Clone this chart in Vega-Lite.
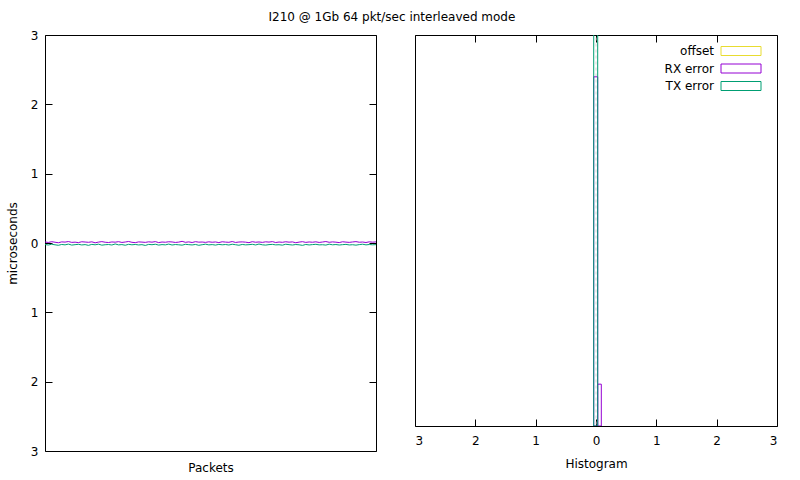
{
  "$schema": "https://vega.github.io/schema/vega-lite/v6.json",
  "padding": {"left": 5, "top": 10, "right": 5, "bottom": 5},
  "background": "white",
  "title": {"text": "I210 @ 1Gb 64 pkt/sec interleaved mode", "fontSize": 12, "fontWeight": "normal", "font": "DejaVu Sans", "color": "black", "anchor": "middle", "offset": 5},
  "config": {
    "view": {"stroke": "black", "strokeWidth": 1},
    "font": "DejaVu Sans",
    "axis": {"domain": false, "grid": false, "tickColor": "black", "tickSize": -7, "labelColor": "black", "labelFont": "DejaVu Sans", "labelFontSize": 12, "titleFont": "DejaVu Sans", "titleFontSize": 12, "titleFontWeight": "normal", "titleColor": "black", "labelPadding": 14},
    "legend": {"labelFont": "DejaVu Sans", "labelFontSize": 12, "labelColor": "black"}
  },
  "datasets": {
    "series": [
      {"i":1,"RX error":0.015,"TX error":-0.022},{"i":2,"RX error":0.008,"TX error":-0.029},{"i":3,"RX error":0.019,"TX error":-0.018},{"i":4,"RX error":0.011,"TX error":-0.026},{"i":5,"RX error":0.004,"TX error":-0.033},
      {"i":6,"RX error":0.016,"TX error":-0.021},{"i":7,"RX error":0.013,"TX error":-0.027},{"i":8,"RX error":0.021,"TX error":-0.016},{"i":9,"RX error":0.009,"TX error":-0.030},{"i":10,"RX error":0.012,"TX error":-0.024},
      {"i":11,"RX error":0.006,"TX error":-0.019},{"i":12,"RX error":0.018,"TX error":-0.028},{"i":13,"RX error":0.014,"TX error":-0.023},{"i":14,"RX error":0.010,"TX error":-0.034},{"i":15,"RX error":0.017,"TX error":-0.020},
      {"i":16,"RX error":0.003,"TX error":-0.026},{"i":17,"RX error":0.013,"TX error":-0.017},{"i":18,"RX error":0.020,"TX error":-0.031},{"i":19,"RX error":0.011,"TX error":-0.025},{"i":20,"RX error":0.007,"TX error":-0.022},
      {"i":21,"RX error":0.015,"TX error":-0.029},{"i":22,"RX error":0.012,"TX error":-0.014},{"i":23,"RX error":0.019,"TX error":-0.027},{"i":24,"RX error":0.008,"TX error":-0.023},{"i":25,"RX error":0.014,"TX error":-0.032},
      {"i":26,"RX error":0.022,"TX error":-0.019},{"i":27,"RX error":0.010,"TX error":-0.026},{"i":28,"RX error":0.005,"TX error":-0.021},{"i":29,"RX error":0.016,"TX error":-0.028},{"i":30,"RX error":0.013,"TX error":-0.024},
      {"i":31,"RX error":0.009,"TX error":-0.035},{"i":32,"RX error":0.017,"TX error":-0.020},{"i":33,"RX error":0.012,"TX error":-0.025},{"i":34,"RX error":0.020,"TX error":-0.018},{"i":35,"RX error":0.006,"TX error":-0.030},
      {"i":36,"RX error":0.014,"TX error":-0.023},{"i":37,"RX error":0.011,"TX error":-0.027},{"i":38,"RX error":0.018,"TX error":-0.016},{"i":39,"RX error":0.015,"TX error":-0.029},{"i":40,"RX error":0.008,"TX error":-0.022},
      {"i":41,"RX error":0.013,"TX error":-0.026},{"i":42,"RX error":0.024,"TX error":-0.031},{"i":43,"RX error":0.010,"TX error":-0.019},{"i":44,"RX error":0.016,"TX error":-0.024},{"i":45,"RX error":0.007,"TX error":-0.028},
      {"i":46,"RX error":0.019,"TX error":-0.021},{"i":47,"RX error":0.012,"TX error":-0.033},{"i":48,"RX error":0.014,"TX error":-0.025},{"i":49,"RX error":0.009,"TX error":-0.017},{"i":50,"RX error":0.017,"TX error":-0.027},
      {"i":51,"RX error":0.011,"TX error":-0.023},{"i":52,"RX error":0.015,"TX error":-0.030},{"i":53,"RX error":0.006,"TX error":-0.020},{"i":54,"RX error":0.018,"TX error":-0.026},{"i":55,"RX error":0.013,"TX error":-0.022},
      {"i":56,"RX error":0.010,"TX error":-0.029},{"i":57,"RX error":0.021,"TX error":-0.018},{"i":58,"RX error":0.008,"TX error":-0.025},{"i":59,"RX error":0.014,"TX error":-0.032},{"i":60,"RX error":0.016,"TX error":-0.021},
      {"i":61,"RX error":0.012,"TX error":-0.027},{"i":62,"RX error":0.005,"TX error":-0.024},{"i":63,"RX error":0.019,"TX error":-0.019},{"i":64,"RX error":0.011,"TX error":-0.028},{"i":65,"RX error":0.015,"TX error":-0.015},
      {"i":66,"RX error":0.009,"TX error":-0.026},{"i":67,"RX error":0.017,"TX error":-0.030},{"i":68,"RX error":0.013,"TX error":-0.023},{"i":69,"RX error":0.020,"TX error":-0.020},{"i":70,"RX error":0.007,"TX error":-0.027},
      {"i":71,"RX error":0.014,"TX error":-0.025},{"i":72,"RX error":0.010,"TX error":-0.031},{"i":73,"RX error":0.018,"TX error":-0.018},{"i":74,"RX error":0.012,"TX error":-0.024},{"i":75,"RX error":0.016,"TX error":-0.029},
      {"i":76,"RX error":0.004,"TX error":-0.022},{"i":77,"RX error":0.013,"TX error":-0.026},{"i":78,"RX error":0.019,"TX error":-0.034},{"i":79,"RX error":0.009,"TX error":-0.021},{"i":80,"RX error":0.015,"TX error":-0.028},
      {"i":81,"RX error":0.011,"TX error":-0.023},{"i":82,"RX error":0.017,"TX error":-0.019},{"i":83,"RX error":0.008,"TX error":-0.027},{"i":84,"RX error":0.014,"TX error":-0.025},{"i":85,"RX error":0.021,"TX error":-0.030},
      {"i":86,"RX error":0.010,"TX error":-0.017},{"i":87,"RX error":0.016,"TX error":-0.026},{"i":88,"RX error":0.012,"TX error":-0.022},{"i":89,"RX error":0.006,"TX error":-0.029},{"i":90,"RX error":0.018,"TX error":-0.024},
      {"i":91,"RX error":0.013,"TX error":-0.020},{"i":92,"RX error":0.009,"TX error":-0.028},{"i":93,"RX error":0.015,"TX error":-0.025},{"i":94,"RX error":0.020,"TX error":-0.031},{"i":95,"RX error":0.011,"TX error":-0.023},
      {"i":96,"RX error":0.014,"TX error":-0.018},{"i":97,"RX error":0.007,"TX error":-0.027},{"i":98,"RX error":0.017,"TX error":-0.022},{"i":99,"RX error":0.012,"TX error":-0.026},{"i":100,"RX error":0.016,"TX error":-0.024}
    ],
    "hist": [
      {"series": "RX error", "lo": -0.038, "hi": 0.028, "count": 89.3},
      {"series": "RX error", "lo": 0.028, "hi": 0.088, "count": 10.7},
      {"series": "TX error", "lo": -0.038, "hi": 0.028, "count": 150},
      {"series": "offset", "lo": 0.0, "hi": 0.0, "count": 150}
    ]
  },
  "spacing": 37,
  "hconcat": [
    {
      "width": 331,
      "height": 416,
      "data": {"name": "series"},
      "transform": [{"fold": ["RX error", "TX error"], "as": ["series", "v"]}],
      "layer": [
        {
          "mark": {"type": "line", "strokeWidth": 1, "clip": true},
          "encoding": {
            "x": {"field": "i", "type": "quantitative", "scale": {"domain": [1, 100], "nice": false, "zero": false}, "axis": {"ticks": false, "labels": false, "title": "Packets", "titlePadding": 11}},
            "y": {"field": "v", "type": "quantitative", "scale": {"domain": [-3, 3], "nice": false}, "axis": {"orient": "left", "values": [-3, -2, -1, 0, 1, 2, 3], "labelExpr": "format(abs(datum.value), 'd')", "title": "microseconds", "titlePadding": 11}},
            "color": {"field": "series", "type": "nominal", "scale": {"domain": ["offset", "RX error", "TX error"], "range": ["#e8dc30", "#9400d3", "#009e73"]},
              "legend": {"title": null, "orient": "none", "legendX": 690, "legendY": 10, "symbolType": "M-4,-0.9H4V0.9H-4Z", "symbolSize": 100, "symbolFillColor": "transparent", "symbolStrokeWidth": 1, "labelAlign": "right", "labelOffset": -33, "rowPadding": 3.5}}
          }
        },
        {
          "mark": {"type": "point", "opacity": 0, "clip": true},
          "encoding": {
            "x": {"field": "i", "type": "quantitative", "axis": {"ticks": false, "labels": false, "title": "Packets", "titlePadding": 11}},
            "y": {"field": "v", "type": "quantitative", "axis": {"orient": "right", "values": [-3, -2, -1, 0, 1, 2, 3], "labels": false, "title": null}}
          }
        }
      ],
      "resolve": {"axis": {"y": "independent"}}
    },
    {
      "width": 362,
      "height": 391,
      "data": {"name": "hist"},
      "layer": [
        {
          "transform": [{"filter": "datum.series === 'offset'"}],
          "mark": {"type": "rule", "color": "#d8d8d8", "strokeDash": [3, 3], "strokeWidth": 1, "clip": true},
          "encoding": {
            "x": {"field": "lo", "type": "quantitative", "scale": {"domain": [-3, 3], "nice": false}, "axis": {"orient": "bottom", "values": [-3, -2, -1, 0, 1, 2, 3], "labelExpr": "format(abs(datum.value), 'd')", "title": "Histogram", "labelPadding": 16, "titlePadding": 12}},
            "y": {"field": "count", "type": "quantitative", "scale": {"domain": [0, 100], "nice": false}, "axis": null},
            "y2": {"datum": 0}
          }
        },
        {
          "transform": [{"filter": "datum.series === 'RX error'"}],
          "mark": {"type": "rect", "filled": false, "strokeWidth": 1, "clip": true},
          "encoding": {
            "x": {"field": "lo", "type": "quantitative", "axis": null},
            "x2": {"field": "hi"},
            "y": {"field": "count", "type": "quantitative", "axis": null},
            "y2": {"datum": 0},
            "color": {"field": "series", "type": "nominal"}
          }
        },
        {
          "transform": [{"filter": "datum.series === 'TX error'"}],
          "mark": {"type": "rect", "filled": false, "strokeWidth": 1, "clip": true},
          "encoding": {
            "x": {"field": "lo", "type": "quantitative", "axis": null},
            "x2": {"field": "hi"},
            "y": {"field": "count", "type": "quantitative", "axis": null},
            "y2": {"datum": 0},
            "color": {"field": "series", "type": "nominal"}
          }
        },
        {
          "mark": {"type": "point", "opacity": 0, "clip": true},
          "encoding": {
            "x": {"field": "lo", "type": "quantitative", "axis": {"orient": "top", "values": [-3, -2, -1, 0, 1, 2, 3], "labels": false, "title": null}},
            "y": {"field": "count", "type": "quantitative", "axis": null}
          }
        }
      ],
      "resolve": {"axis": {"x": "independent"}}
    }
  ]
}
